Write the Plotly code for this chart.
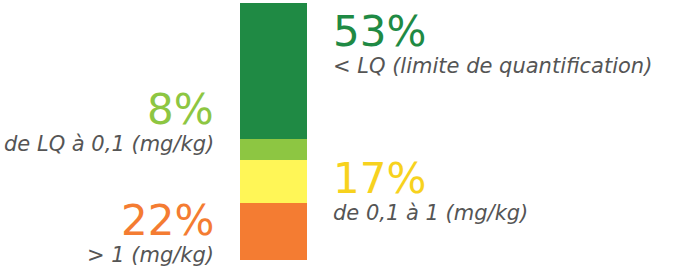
import plotly.graph_objects as go

categories = ["< LQ (limite de quantification)", "de LQ à 0,1 (mg/kg)", "de 0,1 à 1 (mg/kg)", "> 1 (mg/kg)"]
percents = [53, 8, 17, 22]
pct_labels = ["53%", "8%", "17%", "22%"]
bar_colors = ["#1f8a44", "#8dc642", "#fff657", "#f47c32"]
text_colors = ["#1f8a44", "#8dc642", "#f7d21e", "#f47c32"]

W, H = 690, 271

def px(x):
    return x / W

def py(y):
    return 1 - y / H

fig = go.Figure()
for cat, val, col in reversed(list(zip(categories, percents, bar_colors))):
    fig.add_trace(go.Bar(x=[0], y=[val], marker=dict(color=col, line=dict(width=0)),
                         width=1, name=cat, hoverinfo="skip", showlegend=False))

fig.update_layout(
    barmode="stack", width=W, height=H,
    margin=dict(l=0, r=0, t=0, b=0),
    paper_bgcolor="white", plot_bgcolor="white",
    xaxis=dict(domain=[px(240), px(307)], range=[-0.5, 0.5], visible=False, fixedrange=True),
    yaxis=dict(domain=[py(260), py(3)], range=[0, 100], visible=False, fixedrange=True),
    bargap=0,
)

pos = [
    (331, 31, 66, "left"),
    (216, 109, 144, "right"),
    (331, 178, 213, "left"),
    (216, 220, 255, "right"),
]
for (x, yp, yl, anc), pl, cat, tc in zip(pos, pct_labels, categories, text_colors):
    fig.add_annotation(x=px(x), y=py(yp), xref="paper", yref="paper", text=pl,
                       showarrow=False, xanchor=anc, yanchor="middle",
                       font=dict(family="DejaVu Sans", size=42, color=tc))
    fig.add_annotation(x=px(x), y=py(yl), xref="paper", yref="paper",
                       text="<i>" + cat + "</i>",
                       showarrow=False, xanchor=anc, yanchor="middle",
                       font=dict(family="DejaVu Sans", size=21, color="#555555", weight=300))

fig.write_html("out.html", config={"displayModeBar": False, "staticPlot": True},
               post_script="document.body.style.margin='0';")
